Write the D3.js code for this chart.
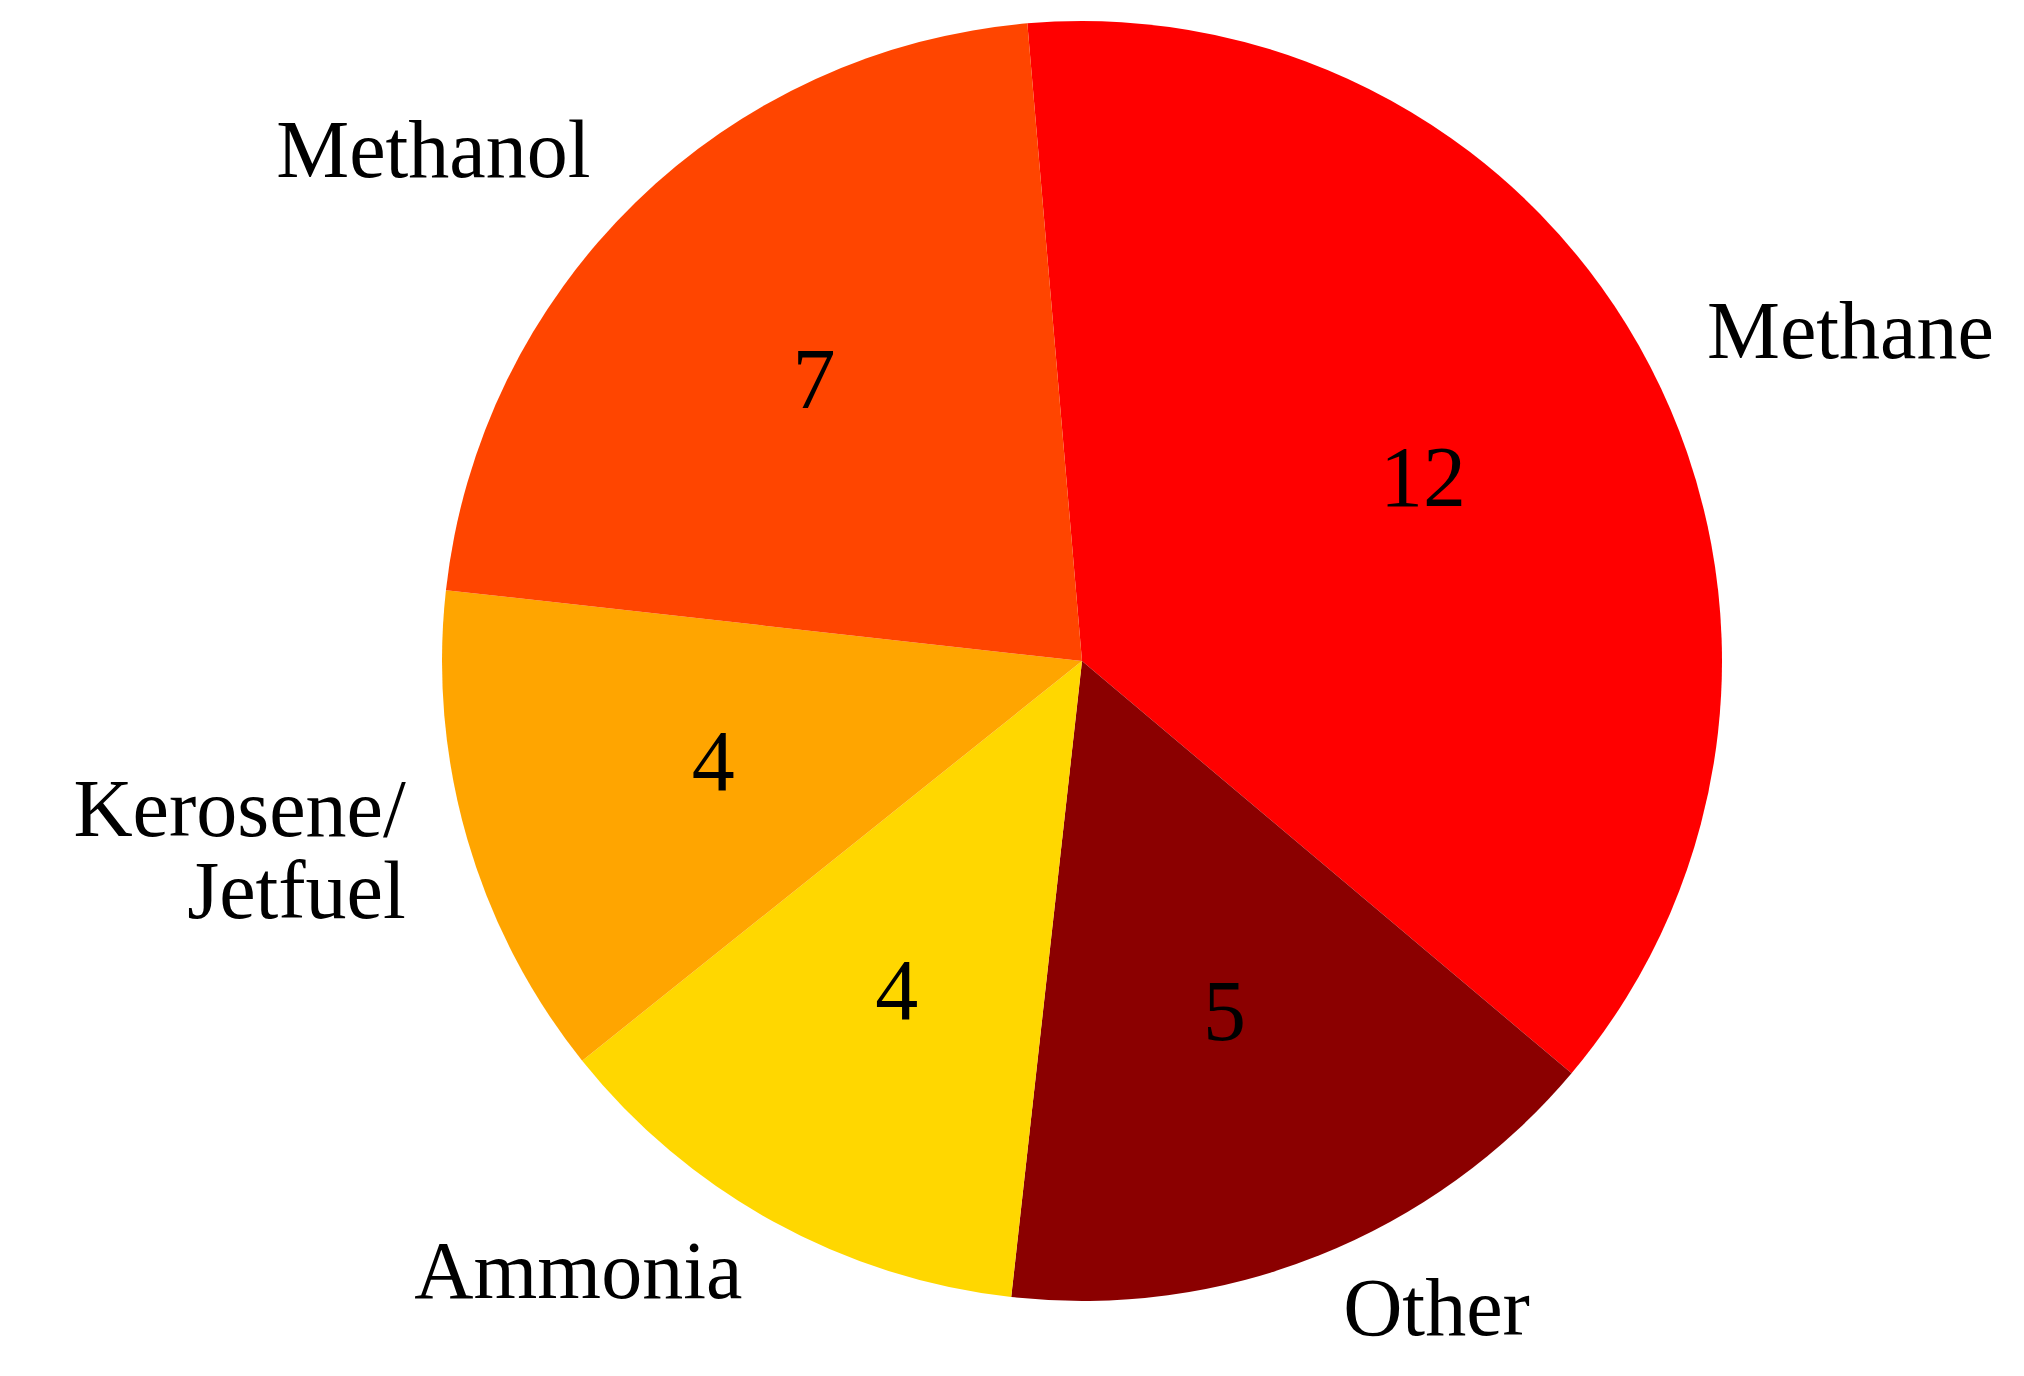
<!DOCTYPE html>
<html>
<head>
<meta charset="utf-8">
<script src="https://cdn.jsdelivr.net/npm/d3@7"></script>
<style>
  body { margin: 0; background: #fff; }
  text { font-family: "Liberation Serif", "DejaVu Serif", serif; fill: #000; }
</style>
</head>
<body>
<svg id="chart" width="2024" height="1376"></svg>
<script>
var labels = ['Methane', 'Other', 'Ammonia', 'Kerosene/\nJetfuel', 'Methanol'];
var values = [12, 5, 4, 4, 7];
var colors = ['#ff0000', '#8b0000', '#ffd700', '#ffa500', '#ff4500'];

var cx = 1082, cy = 661, r = 640;
var start = -4.9 * Math.PI / 180;
var shiftY = -7; // text baseline nudge

var svg = d3.select('#chart');
var g = svg.append('g').attr('transform', 'translate(' + cx + ',' + cy + ')');

var pie = d3.pie()
  .sort(null)
  .startAngle(start)
  .endAngle(start + 2 * Math.PI);

var arcs = pie(values)
  .map((a, i) => Object.assign(a, { label: labels[i], color: colors[i] }));

var arc = d3.arc().innerRadius(0).outerRadius(r);

// Slices
g.selectAll('path')
  .data(arcs)
  .enter()
  .append('path')
  .attr('d', arc)
  .attr('fill', d => d.color);

var pos = function(d, k) {
  var a = (d.startAngle + d.endAngle) / 2;
  return [k * r * Math.sin(a), -k * r * Math.cos(a)];
};

// Values inside
g.selectAll('text.val')
  .data(arcs)
  .enter()
  .append('text')
  .attr('class', 'val')
  .attr('x', d => pos(d, 0.6)[0])
  .attr('y', d => pos(d, 0.6)[1] + shiftY)
  .attr('text-anchor', 'middle')
  .attr('dominant-baseline', 'central')
  .style('font-size', '86px')
  .text(d => d.value);

// Category labels outside
var lineH = 82;
g.selectAll('text.lab')
  .data(arcs)
  .enter()
  .append('text')
  .attr('class', 'lab')
  .attr('text-anchor', d => pos(d, 1.1)[0] > 0 ? 'start' : 'end')
  .style('font-size', '82px')
  .each(function(d) {
    var p = pos(d, 1.1);
    var lines = d.label.split('\n');
    var t = d3.select(this);
    lines.forEach(function(s, j) {
      t.append('tspan')
        .attr('x', p[0])
        .attr('y', p[1] + shiftY + (j - (lines.length - 1) / 2) * lineH)
        .attr('dominant-baseline', 'central')
        .text(s);
    });
  });
</script>
</body>
</html>
